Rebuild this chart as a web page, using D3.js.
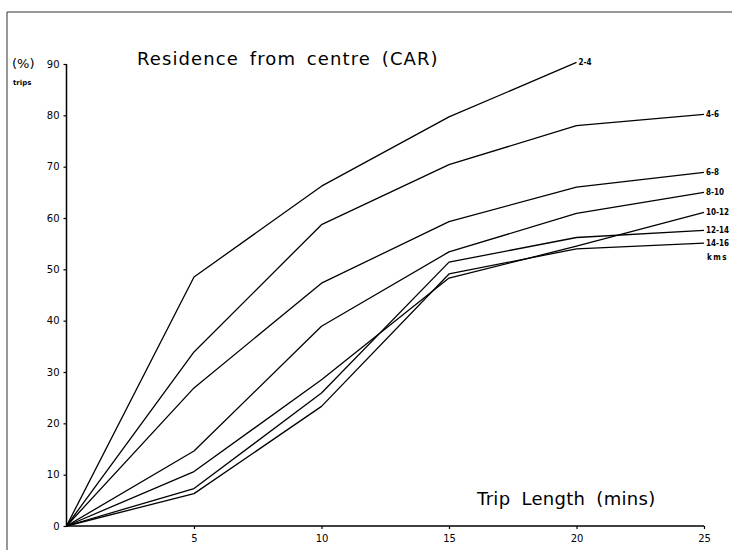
<!DOCTYPE html>
<html>
<head>
<meta charset="utf-8">
<script src="https://cdn.jsdelivr.net/npm/d3@7"></script>
<style>
html, body { margin: 0; padding: 0; background: #fff; }
svg { display: block; }
</style>
</head>
<body>
<svg id="chart" width="732" height="550"></svg>
<script>
// ---- data ----
const tripLength = [0, 5, 10, 15, 20, 25];
const seriesNames = ["2-4", "4-6", "6-8", "8-10", "10-12", "12-14", "14-16"];
const s2_4   = [0, 48.5, 66.2, 79.7, 90.3];
const s4_6   = [0, 33.9, 58.7, 70.4, 78.0, 80.2];
const s6_8   = [0, 26.9, 47.3, 59.3, 66.0, 68.9];
const s8_10  = [0, 14.6, 38.9, 53.4, 60.9, 65.0];
const s10_12 = [0, 10.6, 28.5, 48.3, 54.5, 61.1];
const s12_14 = [0, 7.3, 25.9, 51.4, 56.2, 57.6];
const s14_16 = [0, 6.3, 23.3, 49.1, 54.0, 55.1];
const seriesValues = [s2_4, s4_6, s6_8, s8_10, s10_12, s12_14, s14_16];
const xTicks = [5, 10, 15, 20, 25];
const yTicks = [0, 10, 20, 30, 40, 50, 60, 70, 80, 90];
const titleText = "Residence from centre (CAR)";
const xTitle = "Trip Length (mins)";
const yUnit = "(%)";
const yUnit2 = "trips";
const unitLabel = "kms";

// ---- layout ----
const svg = d3.select("#chart");
const x = d3.scaleLinear().domain([0, 25]).range([66.5, 704]);
const y = d3.scaleLinear().domain([0, 90]).range([526, 64]);
const font = "'DejaVu Sans', sans-serif";
const condFont = "'DejaVu Sans Condensed', 'Liberation Sans Narrow', sans-serif";

// outer frame (top and left edges of scanned page)
svg.append("line").attr("x1", 7).attr("x2", 732).attr("y1", 12).attr("y2", 12)
  .attr("stroke", "#333").attr("stroke-width", 1);
svg.append("line").attr("x1", 7).attr("x2", 7).attr("y1", 12).attr("y2", 550)
  .attr("stroke", "#333").attr("stroke-width", 1);

// axes
const xAxis = d3.axisBottom(x).tickValues(xTicks).tickSize(3).tickPadding(6)
  .tickFormat(d3.format("d"));
const gx = svg.append("g").attr("transform", `translate(0,${y(0)})`).call(xAxis);
gx.select(".domain").attr("d", `M${x(0)},0H${x(25)}`).attr("stroke", "#000").attr("stroke-width", 1.5);
gx.selectAll(".tick line").attr("stroke", "#000").attr("stroke-width", 1.2);
gx.selectAll(".tick text").attr("font-family", font).attr("font-size", 10).attr("fill", "#000");

const yAxis = d3.axisLeft(y).tickValues(yTicks).tickSize(3).tickPadding(4)
  .tickFormat(d3.format("d"));
const gy = svg.append("g").attr("transform", `translate(${x(0)},0)`).call(yAxis);
gy.select(".domain").attr("d", `M0,${y(0)}V${y(90)}`).attr("stroke", "#000").attr("stroke-width", 1.5);
gy.selectAll(".tick line").attr("stroke", "#000").attr("stroke-width", 1.2);
gy.selectAll(".tick text").attr("font-family", font).attr("font-size", 10).attr("fill", "#000");

// lines
const line = d3.line().x((d, i) => x(tripLength[i])).y(d => y(d));
svg.append("g").selectAll("path").data(seriesValues).join("path")
  .attr("d", d => line(d))
  .attr("fill", "none").attr("stroke", "#000").attr("stroke-width", 1.3)
  .attr("stroke-linejoin", "round");

// series labels at line ends
svg.append("g").selectAll("text").data(seriesValues).join("text")
  .attr("x", d => x(tripLength[d.length - 1]) + 2)
  .attr("y", d => y(d[d.length - 1]) + 3)
  .attr("font-family", condFont).attr("font-size", 8).attr("font-weight", "bold")
  .text((d, i) => seriesNames[i]);

svg.append("text").attr("x", x(25) + 3).attr("y", y(s14_16[5]) + 17)
  .attr("font-family", condFont).attr("font-size", 8).attr("font-weight", "bold")
  .attr("letter-spacing", 1.5).text(unitLabel);

// titles
svg.append("text").attr("x", 137).attr("y", 65)
  .attr("font-family", font).attr("font-size", 18).attr("letter-spacing", 1.1)
  .attr("word-spacing", 4).text(titleText);

svg.append("text").attr("x", 477).attr("y", 505)
  .attr("font-family", font).attr("font-size", 18).attr("letter-spacing", 0.3)
  .attr("word-spacing", 5).text(xTitle);

svg.append("text").attr("x", 12).attr("y", 68)
  .attr("font-family", font).attr("font-size", 13).text(yUnit);
svg.append("text").attr("x", 13).attr("y", 85)
  .attr("font-family", font).attr("font-size", 7).attr("font-weight", "bold")
  .text(yUnit2);
</script>
</body>
</html>
